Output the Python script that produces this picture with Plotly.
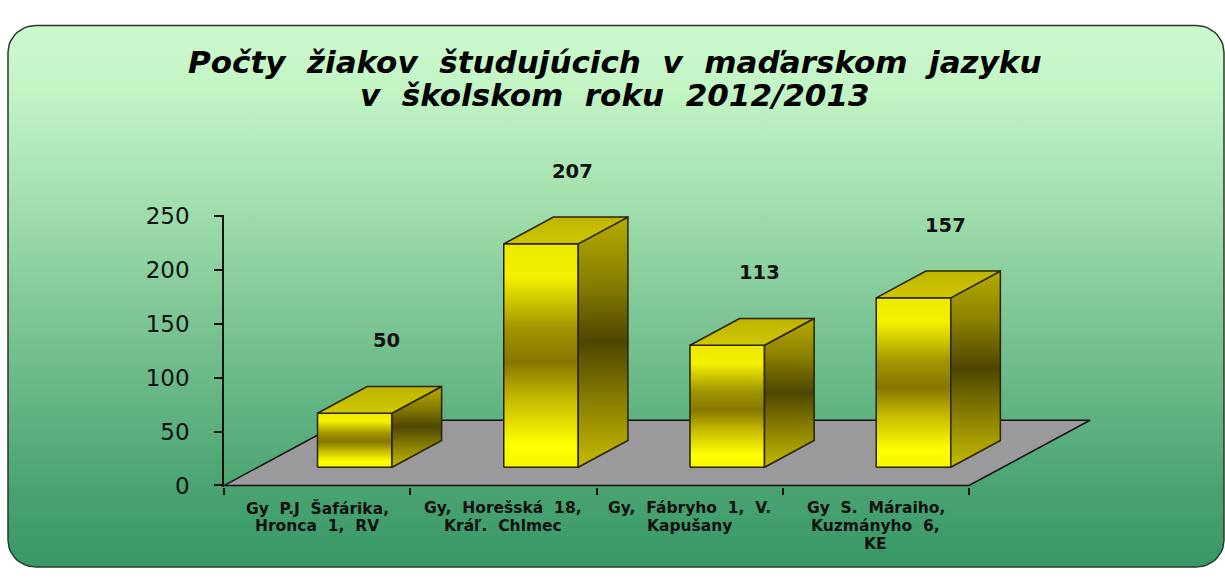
import numpy as np
import plotly.graph_objects as go

# ---------------- data ----------------
categories = [
    "Gy P.J Šafárika,<br>Hronca 1, RV",
    "Gy, Horešská 18,<br>Kráľ. Chlmec",
    "Gy, Fábryho 1, V.<br>Kapušany",
    "Gy S. Máraiho,<br>Kuzmányho 6,<br>KE",
]
values = [50, 207, 113, 157]
y_ticks = [0, 50, 100, 150, 200, 250]
title_lines = ["Počty žiakov študujúcich v maďarskom jazyku", "v školskom roku 2012/2013"]

# ---------------- geometry / style ----------------
W, H = 1225, 581
FONT = "DejaVu Sans"
depth_x, depth_y = 0.65, 60.5      # floor depth in axis units
front_frac, box_frac = 0.28, 0.41  # where bars sit inside the floor depth
bar_off, bar_w = 0.32, 0.40
n = len(categories)

fig = go.Figure()

def rounded_rect(x0, y0, x1, y1, r, k=12):
    pts = []
    corners = [(x1 - r, y1 - r, 0), (x0 + r, y1 - r, 90), (x0 + r, y0 + r, 180), (x1 - r, y0 + r, 270)]
    for cx, cy, a0 in corners:
        for t in np.linspace(a0, a0 + 90, k):
            pts.append((cx + r * np.cos(np.radians(t)), cy + r * np.sin(np.radians(t))))
    pts.append(pts[0])
    return [p[0] for p in pts], [p[1] for p in pts]

bx, by = rounded_rect(8, H - 578, 1224, H - 14, 28)
fig.add_trace(go.Scatter(
    x=bx, y=by, mode="lines", fill="toself", xaxis="x", yaxis="y",
    line=dict(color="#2b3a2b", width=1.5),
    fillgradient=dict(type="vertical", colorscale=[
        [0.0, "#389866"], [0.15, "#4aa472"], [0.45, "#7cc494"],
        [0.7, "#a6e2b0"], [0.88, "#c2f4c4"], [1.0, "#ccfacc"]]),
    hoverinfo="skip", showlegend=False))

fx = [0, n, n + depth_x, depth_x, 0]
fy = [0, 0, depth_y, depth_y, 0]
fig.add_trace(go.Scatter(
    x=fx, y=fy, mode="lines", fill="toself", fillcolor="#9a999b",
    line=dict(color="#111111", width=1.5), xaxis="x2", yaxis="y2",
    hoverinfo="skip", showlegend=False))

edge = dict(color="#2a2200", width=1.5)
front_scale = [[0.0, "#f6f400"], [0.1, "#ffff00"], [0.3, "#c8bc00"], [0.47, "#857700"],
               [0.62, "#a09400"], [0.85, "#f4f000"], [1.0, "#ecea00"]]
side_scale = [[0.0, "#c4bc00"], [0.25, "#8c8200"], [0.5, "#4e4600"], [0.75, "#8a8000"], [1.0, "#b4ac00"]]
top_scale = [[0.0, "#d0c800"], [1.0, "#bdb400"]]

b = front_frac * depth_y
ddx, ddy = box_frac * depth_x, box_frac * depth_y
sx = front_frac * depth_x
for i, v in enumerate(values):
    x0 = i + bar_off + sx
    x1 = x0 + bar_w
    t = b + v
    faces = [
        ([x0, x1, x1, x0, x0], [b, b, t, t, b], front_scale),
        ([x1, x1 + ddx, x1 + ddx, x1, x1], [b, b + ddy, t + ddy, t, b], side_scale),
        ([x0, x1, x1 + ddx, x0 + ddx, x0], [t, t, t + ddy, t + ddy, t], top_scale),
    ]
    for xs, ys, cs in faces:
        fig.add_trace(go.Scatter(
            x=xs, y=ys, mode="lines", fill="toself", line=edge,
            fillgradient=dict(type="vertical", colorscale=cs),
            xaxis="x2", yaxis="y2", hoverinfo="skip", showlegend=False))
    fig.add_annotation(
        x=x0 + bar_w / 2 + ddx / 2, y=t + ddy / 2, xref="x2", yref="y2",
        text=f"<b>{v}</b>", showarrow=False, yshift=59, xshift=7,
        font=dict(family=FONT, size=19.5, color="#111111"))

# category labels, one annotation per line for tight line spacing
for i, c in enumerate(categories):
    for k, line in enumerate(c.split("<br>")):
        fig.add_annotation(
            x=i + 0.5, y=0, xref="x2", yref="y2",
            text="<b>" + line.replace(" ", "\u00a0 ") + "</b>", showarrow=False,
            yanchor="middle", yshift=-23 - 18 * k, borderpad=0,
            font=dict(family=FONT, size=15.5, color="#111111"))

# title, one annotation per line
for k, line in enumerate(title_lines):
    fig.add_annotation(
        x=615 / W, y=1 - (52 + 34 * k) / H, xref="paper", yref="paper", yanchor="middle",
        text="<b><i>" + line.replace(" ", "\u00a0 ") + "</i></b>", showarrow=False,
        borderpad=0, font=dict(family=FONT, size=31, color="#000000"))

left, right = 224, 1095
ppx = (969 - 224) / n
x_hi = (right - left) / ppx
top_px, bot_px = 211, 494.7
y_lo, y_hi = -1.5, 251

fig.update_layout(
    width=W, height=H, margin=dict(l=0, r=0, t=0, b=0),
    paper_bgcolor="white", plot_bgcolor="rgba(0,0,0,0)",
    showlegend=False,
    xaxis=dict(domain=[0, 1], range=[0, W], visible=False, fixedrange=True),
    yaxis=dict(domain=[0, 1], range=[0, H], visible=False, fixedrange=True),
    xaxis2=dict(domain=[left / W, right / W], range=[0, x_hi], anchor="y2",
                tickvals=list(range(n + 1)), ticktext=[""] * (n + 1),
                ticks="outside", ticklen=7, tickwidth=1.5, tickcolor="#111111",
                showline=False, showgrid=False, zeroline=False),
    yaxis2=dict(domain=[1 - bot_px / H, 1 - top_px / H], range=[y_lo, y_hi], anchor="x2",
                tickvals=y_ticks, ticks="outside", ticklen=8, tickwidth=1.5,
                tickcolor="#111111", showline=True, linecolor="#111111", linewidth=1.5,
                showgrid=False, zeroline=False, ticklabelstandoff=20,
                tickfont=dict(family=FONT, size=23, color="#111111")),
)

fig.write_html("out.html", config={"displayModeBar": False},
               post_script="document.body.style.margin='0px';document.body.style.overflow='hidden';")
